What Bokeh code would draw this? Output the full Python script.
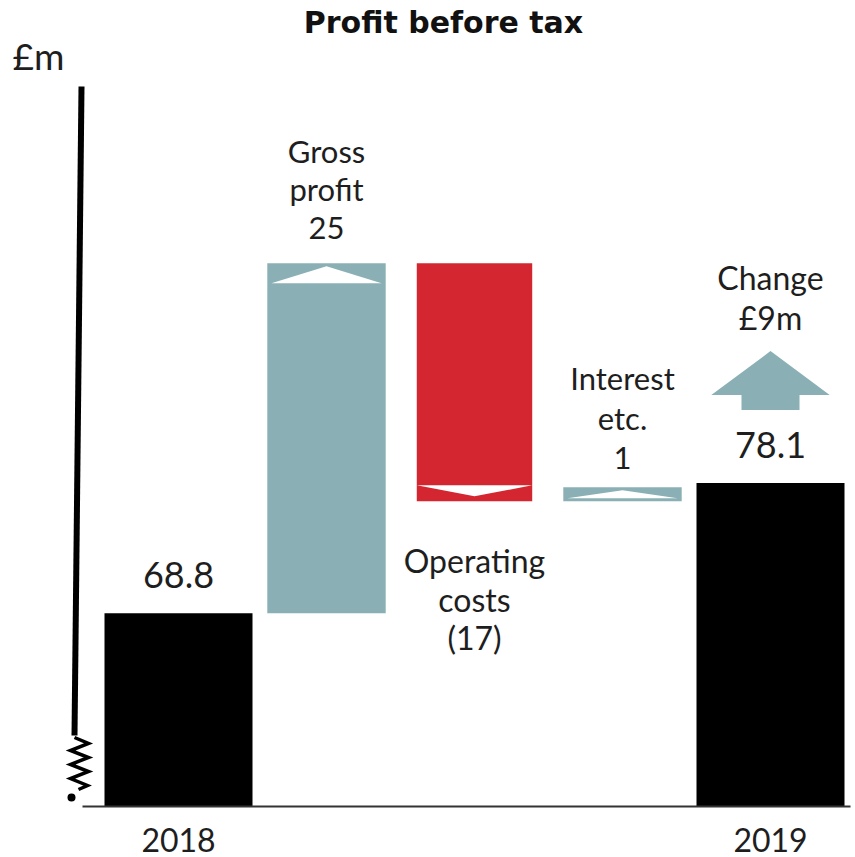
from bokeh.plotting import figure
from bokeh.models import Range1d
from bokeh.core.properties import value
from bokeh.embed import file_html
from bokeh.resources import INLINE

# ---------------- data ----------------
categories = ["2018", "Gross profit", "Operating costs", "Interest etc.", "2019"]
kinds = ["total", "delta", "delta", "delta", "total"]
values = [68.8, 25, -17, 1, 78.1]
bar_labels = ["68.8", "Gross\nprofit\n25", "Operating\ncosts\n(17)", "Interest\netc.\n1", "78.1"]
year_labels = ["2018", "", "", "", "2019"]
change_label = "Change\n£9m"
title_text = "Profit before tax"
unit_label = "£m"

# ---------------- scale set-up ----------------
W, H = 855, 857
BASE = 55.0          # broken axis base value
K = 14.0             # px per £m
XP = 148.0           # px per category
BASE_PX = 806.0
X0 = -178.0 / XP
Y0 = BASE - (H - BASE_PX) / K
x_end = X0 + W / XP
y_end = Y0 + H / K

def dy(px):
    return px / K

def sx(page_x):   # page pixel -> data x (decorations / text placement only)
    return X0 + page_x / XP

def sy(page_y):
    return y_end - page_y / K

TEAL = "#8AB0B5"
RED = "#D42630"
BLACK = "#000000"
TXT = "#1e1e1e"
FONT = "Lato"

# waterfall geometry from values
xs, bottoms, tops, colors, widths = [], [], [], [], []
running = 0.0
for i, (k, v) in enumerate(zip(kinds, values)):
    xs.append(i)
    if k == "total":
        bottoms.append(BASE)
        tops.append(v)
        colors.append(BLACK)
        widths.append(1.0)
        running = v
    else:
        lo, hi = (running, running + v) if v > 0 else (running + v, running)
        bottoms.append(lo)
        tops.append(hi)
        colors.append(TEAL if v > 0 else RED)
        widths.append(0.8 if v > 0 else 0.78)
        running += v

p = figure(width=W, height=H, x_range=Range1d(X0, x_end), y_range=Range1d(Y0, y_end),
           x_axis_type=None, y_axis_type=None, toolbar_location=None,
           output_backend="svg", min_border=0, outline_line_color=None)
p.grid.visible = False
p.background_fill_color = "white"
p.border_fill_color = "white"

p.vbar(x=xs, bottom=bottoms, top=tops, width=widths, fill_color=colors, line_color=None)

# white direction triangles inside the change bars
tri_x, tri_y = [], []
for i, (k, v) in enumerate(zip(kinds, values)):
    if k != "delta":
        continue
    hw = widths[i] / 2
    hpx = (tops[i] - bottoms[i]) * K
    if v > 0:
        th = min(17.0, hpx - 6.0)
        apex = tops[i] - dy(3)
        base_y = apex - dy(th)
        f = 0.93
        tri_x.append([i - hw * f, i, i + hw * f])
        tri_y.append([base_y, apex, base_y])
    else:
        apex = bottoms[i] + dy(5)
        top_y = apex + dy(11)
        tri_x.append([i - hw, i, i + hw])
        tri_y.append([top_y, apex, top_y])
p.patches(tri_x, tri_y, fill_color="white", line_color=None)

# change arrow above final bar
last = len(values) - 1
t = tops[last]
ax = [last - 0.196, last - 0.196, last - 0.40, last, last + 0.40, last + 0.196, last + 0.196]
ay = [t + dy(73), t + dy(88), t + dy(88), t + dy(132), t + dy(88), t + dy(88), t + dy(73)]
p.patch(ax, ay, fill_color=TEAL, line_color=None)

# labels
def txt(x, y, text, size, baseline, yoff, lh=1.2, font=FONT, style="normal", color=TXT, align="center"):
    p.text(x=[x], y=[y], text=[text], text_font=value(font), text_font_size=value(size),
           text_align=align, text_baseline=baseline, y_offset=yoff,
           text_line_height=lh, text_color=color, text_font_style=style)

for i, (k, v) in enumerate(zip(kinds, values)):
    if k == "total":
        txt(i, tops[i], bar_labels[i], "36px", "alphabetic", -38)
    elif v > 0:
        if i == 1:
            txt(i, tops[i], bar_labels[i], "31px", "bottom", -17, lh=1.0)
        else:
            txt(i, tops[i], bar_labels[i], "31px", "bottom", -11, lh=1.04)
    else:
        txt(i, bottoms[i], bar_labels[i], "32px", "top", 40, lh=0.98)

for i, lab in enumerate(year_labels):
    if lab:
        txt(i, BASE, lab, "32px", "alphabetic", 33)

txt(last, t + dy(132), change_label, "32px", "bottom", -14, lh=1.02)

# title and unit
txt(sx(443), sy(22), title_text, "30px", "alphabetic", 0, font="DejaVu Sans", style="bold", color="#111111")
txt(sx(12), sy(55), unit_label, "37px", "alphabetic", 0, align="left")

# broken vertical axis (hand drawn look)
p.line(x=[sx(81), sx(74)], y=[sy(86), sy(735)], line_color=BLACK, line_width=6)
zx = [74, 88, 70, 88, 70, 88, 70, 87, 78]
zy = [737, 743, 750, 757, 764, 771, 778, 785, 789]
p.line(x=[sx(v) for v in zx], y=[sy(v) for v in zy], line_color=BLACK, line_width=3.5,
       line_join="miter")
p.scatter(x=[sx(71)], y=[sy(797)], size=8, fill_color=BLACK, line_color=None)

# baseline
p.segment(x0=[sx(82)], y0=[BASE], x1=[sx(850)], y1=[BASE], line_color="#333333", line_width=2)

open("out.html", "w").write(file_html(p, INLINE))
